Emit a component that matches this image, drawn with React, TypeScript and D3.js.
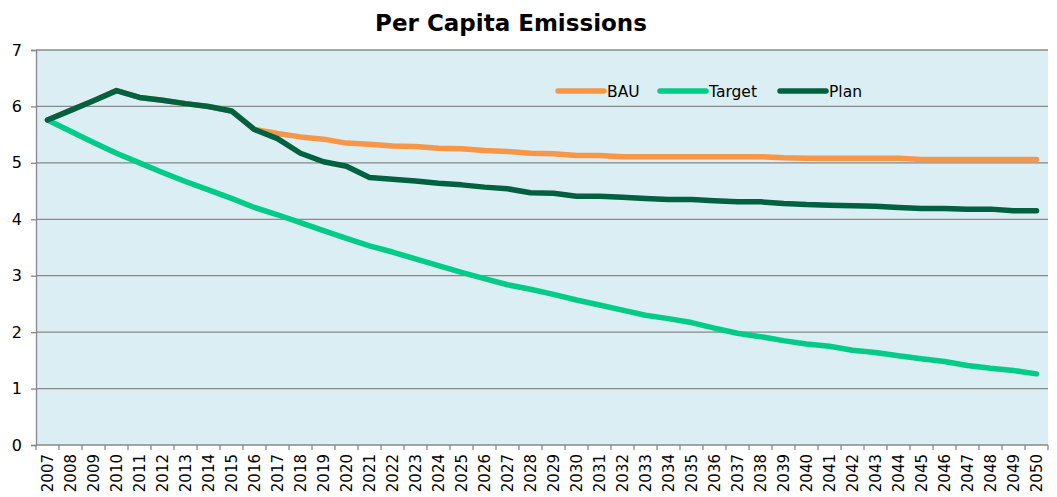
import React, { useEffect, useRef } from "react";
import * as d3 from "d3";

const years: string[] = [];
for (let y = 2007; y <= 2050; y++) years.push(String(y));

const bau = [5.76, 5.93, 6.1, 6.28, 6.16, 6.11, 6.05, 6.0, 5.92, 5.59, 5.52, 5.46, 5.42, 5.35, 5.33, 5.3, 5.29, 5.26, 5.25, 5.22, 5.2, 5.17, 5.16, 5.13, 5.13, 5.11, 5.11, 5.11, 5.11, 5.11, 5.11, 5.11, 5.09, 5.08, 5.08, 5.08, 5.08, 5.08, 5.06, 5.06, 5.06, 5.06, 5.06, 5.06];
const target = [5.76, 5.56, 5.36, 5.17, 5.0, 4.83, 4.67, 4.52, 4.37, 4.21, 4.08, 3.94, 3.8, 3.66, 3.53, 3.42, 3.3, 3.18, 3.06, 2.95, 2.84, 2.76, 2.67, 2.57, 2.48, 2.39, 2.3, 2.24, 2.17, 2.07, 1.98, 1.92, 1.85, 1.79, 1.75, 1.68, 1.64, 1.58, 1.53, 1.48, 1.41, 1.36, 1.32, 1.26];
const plan = [5.76, 5.93, 6.1, 6.28, 6.16, 6.11, 6.05, 6.0, 5.92, 5.59, 5.43, 5.17, 5.02, 4.94, 4.74, 4.71, 4.68, 4.64, 4.61, 4.57, 4.54, 4.47, 4.46, 4.41, 4.41, 4.39, 4.37, 4.35, 4.35, 4.33, 4.31, 4.31, 4.28, 4.26, 4.25, 4.24, 4.23, 4.21, 4.19, 4.19, 4.18, 4.18, 4.15, 4.15];
const yTicks = [0, 1, 2, 3, 4, 5, 6, 7];

const seriesNames = ["BAU", "Target", "Plan"];
const seriesColors = ["#F79646", "#00CC88", "#006140"];

export default function App() {
  const ref = useRef<SVGSVGElement>(null);
  useEffect(() => {
    const svg = d3.select(ref.current);
    svg.selectAll("*").remove();
    const W = 1057, H = 497;
    const left = 36, right = 1048, top = 50, bottom = 445;
    const font = "'DejaVu Sans', Verdana, sans-serif";

    const x = d3.scaleBand<string>().domain(years).range([left, right]).padding(0);
    const y = d3.scaleLinear().domain([0, 7]).range([bottom, top]);

    svg.append("rect").attr("width", W).attr("height", H).attr("fill", "#fff");
    svg.append("rect").attr("x", left).attr("y", top).attr("width", right - left).attr("height", bottom - top).attr("fill", "#DBEEF3");

    // gridlines
    svg.append("g").selectAll("line").data(yTicks.slice(1)).join("line")
      .attr("x1", left).attr("x2", right)
      .attr("y1", d => y(d)).attr("y2", d => y(d))
      .attr("stroke", "#888").attr("stroke-width", 1.3);

    // y axis
    const ya = svg.append("g").attr("transform", `translate(${left},0)`)
      .call(d3.axisLeft(y).tickValues(yTicks).tickSize(5).tickPadding(9).tickFormat(d3.format("d")));
    ya.select(".domain").attr("stroke", "#888").attr("stroke-width", 1.3);
    ya.selectAll(".tick line").attr("stroke", "#888").attr("stroke-width", 1.3);
    ya.selectAll("text").attr("font-family", font).attr("font-size", 16).attr("fill", "#000");

    // x axis
    const xa = svg.append("g").attr("transform", `translate(0,${bottom})`);
    xa.append("line").attr("x1", left).attr("x2", right).attr("y1", 0).attr("y2", 0).attr("stroke", "#888").attr("stroke-width", 1.3);
    const bounds = years.map(yr => x(yr) as number).concat([right]);
    xa.selectAll("line.tk").data(bounds).join("line").attr("class", "tk")
      .attr("x1", d => d).attr("x2", d => d).attr("y1", 0).attr("y2", 5)
      .attr("stroke", "#888").attr("stroke-width", 1.3);
    xa.selectAll("text").data(years).join("text")
      .attr("transform", d => `translate(${(x(d) as number) + x.bandwidth() / 2 + 5},9) rotate(-90)`)
      .attr("text-anchor", "end")
      .attr("font-family", font).attr("font-size", 15).attr("fill", "#000")
      .text(d => d);

    const line = d3.line<number>()
      .x((_, i) => (x(years[i]) as number) + x.bandwidth() / 2)
      .y(d => y(d));

    const data = [bau, target, plan];
    data.forEach((vals, i) => {
      svg.append("path").attr("d", line(vals) as string)
        .attr("fill", "none").attr("stroke", seriesColors[i]).attr("stroke-width", 5.5)
        .attr("stroke-linejoin", "round").attr("stroke-linecap", "round");
    });

    // legend
    const legendX = [558, 660, 780];
    seriesNames.forEach((n, i) => {
      svg.append("line").attr("x1", legendX[i]).attr("x2", legendX[i] + 46).attr("y1", 91).attr("y2", 91)
        .attr("stroke", seriesColors[i]).attr("stroke-width", 5.5).attr("stroke-linecap", "round");
      svg.append("text").attr("x", legendX[i] + 49).attr("y", 96.5)
        .attr("font-family", font).attr("font-size", 15.5).attr("fill", "#000").text(n);
    });

    svg.append("text").attr("x", 511).attr("y", 31).attr("text-anchor", "middle")
      .attr("font-family", font).attr("font-weight", "bold").attr("font-size", 23).attr("fill", "#000")
      .text("Per Capita Emissions");
  }, []);
  return <svg ref={ref} width={1057} height={497} style={{ position: "absolute", left: 0, top: 0 }} />;
}
